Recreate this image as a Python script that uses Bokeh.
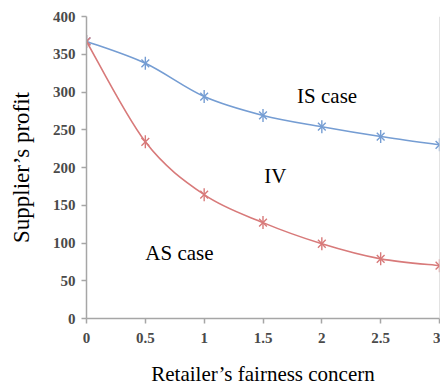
import numpy as np
from bokeh.plotting import figure
from bokeh.models import Range1d, FixedTicker, Label, Span
from bokeh.embed import file_html
from bokeh.resources import INLINE

fairness = [0, 0.5, 1, 1.5, 2, 2.5, 3]
is_case = [367, 338, 294, 269, 254, 241, 230]
as_case = [367, 234, 164, 127, 99, 79, 70]
x_ticks = [0, 0.5, 1, 1.5, 2, 2.5, 3]
y_ticks = [0, 50, 100, 150, 200, 250, 300, 350, 400]

BLUE = "#759dd3"
RED = "#d87a7a"
SERIF = "Liberation Serif"

p = figure(width=440, height=388, output_backend="svg", toolbar_location=None,
           x_range=Range1d(0, 3), y_range=Range1d(0, 400),
           min_border_left=86, min_border_right=1, min_border_top=16, min_border_bottom=70)
p.outline_line_color = None
p.xgrid.visible = False
p.ygrid.visible = False
p.background_fill_color = "white"


def smooth(xs, ys, k=1/6):
    xs = np.asarray(xs, float); ys = np.asarray(ys, float)
    n = len(xs)
    x0s, y0s, x1s, y1s, cx0, cy0, cx1, cy1 = [], [], [], [], [], [], [], []
    for i in range(n - 1):
        ip = max(i - 1, 0); inx = min(i + 2, n - 1)
        x0s.append(xs[i]); y0s.append(ys[i]); x1s.append(xs[i + 1]); y1s.append(ys[i + 1])
        cx0.append(xs[i] + (xs[i + 1] - xs[ip]) * k)
        cy0.append(ys[i] + (ys[i + 1] - ys[ip]) * k)
        cx1.append(xs[i + 1] - (xs[inx] - xs[i]) * k)
        cy1.append(ys[i + 1] - (ys[inx] - ys[i]) * k)
    return dict(x0=x0s, y0=y0s, x1=x1s, y1=y1s, cx0=cx0, cy0=cy0, cx1=cx1, cy1=cy1)


for ys, col in [(is_case, BLUE), (as_case, RED)]:
    b = smooth(fairness, ys)
    p.bezier(x0=b["x0"], y0=b["y0"], x1=b["x1"], y1=b["y1"],
             cx0=b["cx0"], cy0=b["cy0"], cx1=b["cx1"], cy1=b["cy1"],
             line_color=col, line_width=1.6)
    p.scatter(fairness, ys, marker="x", size=11, line_color=col, line_width=1.4)
    p.scatter(fairness, ys, marker="dash", angle=np.pi / 2, size=13, line_color=col, line_width=1.4)

p.add_layout(Span(location=3, dimension="height", line_color="#c8c8c8", line_width=1))

for ax in (p.xaxis[0], p.yaxis[0]):
    ax.axis_line_color = "#a6a6a6"
    ax.axis_line_width = 1.5
    ax.major_tick_line_color = "#a6a6a6"
    ax.major_tick_line_width = 1.5
    ax.major_tick_out = 5
    ax.major_tick_in = 0
    ax.minor_tick_line_color = None
    ax.major_label_text_font = SERIF
    ax.major_label_text_font_size = "15px"
    ax.major_label_text_font_style = "bold"
    ax.major_label_text_color = "#4a4a4a"
    ax.axis_label_text_font = SERIF
    ax.axis_label_text_font_size = "21px"
    ax.axis_label_text_font_style = "normal"
    ax.axis_label_text_color = "black"

p.yaxis.axis_label_text_font_size = "23px"
p.xaxis.ticker = FixedTicker(ticks=x_ticks)
p.yaxis.ticker = FixedTicker(ticks=y_ticks)
p.xaxis.major_label_overrides = {0: "0", 1: "1", 2: "2", 3: "3"}
p.yaxis.major_label_standoff = 6
p.xaxis.major_label_standoff = 9
p.xaxis.axis_label = "Retailer\u2019s fairness concern"
p.yaxis.axis_label = "Supplier\u2019s profit"
p.xaxis.axis_label_standoff = 16
p.yaxis.axis_label_standoff = 16

for txt, x, y in [("IS case", 1.79, 295), ("IV", 1.51, 189), ("AS case", 0.5, 87)]:
    p.add_layout(Label(x=x, y=y, text=txt, text_font=SERIF, text_font_size="21px",
                       text_color="black", text_baseline="middle"))

open("out.html", "w").write(file_html(p, INLINE))
